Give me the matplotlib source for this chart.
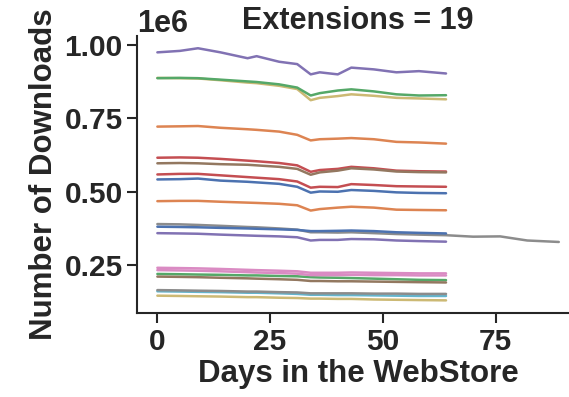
import matplotlib
matplotlib.use("Agg")
import matplotlib.pyplot as plt
import seaborn as sns

# day positions of the read-off points
days = [0, 5, 9, 14, 20, 22, 27, 31, 34, 36, 40, 43, 48, 53, 58, 64]
days_long = days + [70, 76, 82, 89]

# downloads in millions (offset 1e6 applied below)
blue_a = [0.542, 0.543, 0.545, 0.538, 0.534, 0.532, 0.527, 0.517, 0.497, 0.501, 0.500, 0.506, 0.503, 0.498, 0.496, 0.495]
orange_a = [0.722, 0.723, 0.724, 0.718, 0.713, 0.711, 0.705, 0.694, 0.675, 0.679, 0.681, 0.683, 0.679, 0.670, 0.668, 0.664]
green_a = [0.220, 0.219, 0.218, 0.217, 0.215, 0.215, 0.213, 0.212, 0.209, 0.208, 0.207, 0.206, 0.204, 0.202, 0.200, 0.199]
red_a = [0.616, 0.617, 0.616, 0.612, 0.606, 0.604, 0.598, 0.590, 0.568, 0.574, 0.578, 0.585, 0.580, 0.572, 0.570, 0.569]
purple_a = [0.975, 0.980, 0.989, 0.975, 0.955, 0.962, 0.943, 0.935, 0.900, 0.907, 0.900, 0.923, 0.917, 0.907, 0.911, 0.903]
brown_a = [0.597, 0.598, 0.597, 0.594, 0.592, 0.590, 0.585, 0.578, 0.558, 0.566, 0.572, 0.580, 0.576, 0.569, 0.567, 0.566]
pink_a = [0.241, 0.240, 0.239, 0.237, 0.234, 0.233, 0.231, 0.229, 0.224, 0.224, 0.224, 0.225, 0.224, 0.223, 0.222, 0.222]
gray_a = [0.390, 0.389, 0.387, 0.384, 0.380, 0.379, 0.375, 0.371, 0.362, 0.362, 0.361, 0.362, 0.359, 0.356, 0.354, 0.352,
          0.347, 0.348, 0.334, 0.329]
olive_a = [0.888, 0.887, 0.886, 0.880, 0.872, 0.870, 0.861, 0.850, 0.812, 0.820, 0.826, 0.832, 0.827, 0.820, 0.818, 0.815]
cyan_a = [0.161, 0.160, 0.159, 0.158, 0.156, 0.156, 0.154, 0.152, 0.149, 0.149, 0.148, 0.148, 0.147, 0.146, 0.145, 0.145]
blue_b = [0.381, 0.380, 0.379, 0.377, 0.375, 0.374, 0.372, 0.370, 0.366, 0.366, 0.367, 0.368, 0.366, 0.362, 0.360, 0.358]
orange_b = [0.468, 0.469, 0.469, 0.466, 0.463, 0.462, 0.459, 0.454, 0.436, 0.441, 0.446, 0.449, 0.446, 0.439, 0.438, 0.437]
green_b = [0.887, 0.888, 0.887, 0.882, 0.876, 0.874, 0.866, 0.855, 0.828, 0.836, 0.845, 0.849, 0.842, 0.832, 0.828, 0.829]
red_b = [0.559, 0.561, 0.561, 0.556, 0.550, 0.548, 0.543, 0.535, 0.514, 0.517, 0.516, 0.526, 0.523, 0.519, 0.518, 0.517]
purple_b = [0.359, 0.358, 0.357, 0.354, 0.351, 0.350, 0.348, 0.345, 0.334, 0.336, 0.336, 0.339, 0.338, 0.334, 0.332, 0.330]
brown_b = [0.211, 0.210, 0.209, 0.207, 0.205, 0.204, 0.202, 0.200, 0.196, 0.196, 0.195, 0.195, 0.194, 0.193, 0.192, 0.191]
pink_b = [0.233, 0.232, 0.231, 0.229, 0.226, 0.225, 0.223, 0.221, 0.216, 0.216, 0.216, 0.217, 0.216, 0.216, 0.215, 0.215]
gray_b = [0.165, 0.164, 0.163, 0.162, 0.160, 0.160, 0.158, 0.157, 0.154, 0.154, 0.154, 0.154, 0.153, 0.153, 0.152, 0.152]
olive_b = [0.146, 0.145, 0.144, 0.143, 0.141, 0.141, 0.139, 0.138, 0.136, 0.136, 0.135, 0.135, 0.133, 0.132, 0.131, 0.130]

series = [blue_a, orange_a, green_a, red_a, purple_a, brown_a, pink_a, gray_a, olive_a, cyan_a,
          blue_b, orange_b, green_b, red_b, purple_b, brown_b, pink_b, gray_b, olive_b]

sns.set_theme(style="ticks", palette="deep")
plt.rcParams['font.family'] = ['Liberation Sans', 'DejaVu Sans']
plt.rcParams['font.weight'] = 'bold'
plt.rcParams['axes.labelweight'] = 'bold'

fig = plt.figure(figsize=(5.69, 3.97), dpi=100)
ax = fig.add_axes([0.2413, 0.2108, 0.776, 0.6985])

for vals in series:
    x = days_long if len(vals) == len(days_long) else days
    ax.plot(x, [v * 1e6 for v in vals], lw=1.8)

ax.set_xlim(-4.45, 93.45)
ax.set_ylim(0.0859e6, 1.0307e6)
ax.set_xticks([0, 25, 50, 75])
ax.set_yticks([0.25e6, 0.5e6, 0.75e6, 1.0e6])
ax.ticklabel_format(axis='y', style='sci', scilimits=(0, 0))
ax.yaxis.get_offset_text().set_fontsize(22)
ax.yaxis.get_offset_text().set_fontweight('bold')

ax.tick_params(labelsize=21.5, length=7, width=1.5)
for s in ax.spines.values():
    s.set_linewidth(1.5)
sns.despine(ax=ax)

ax.set_title("Extensions = 19", fontsize=22, fontweight='bold', pad=5)
ax.set_xlabel("Days in the WebStore", fontsize=22.5, labelpad=2)
ax.set_ylabel("Number of Downloads", fontsize=22.5)

fig.savefig("out.png", dpi=100)
